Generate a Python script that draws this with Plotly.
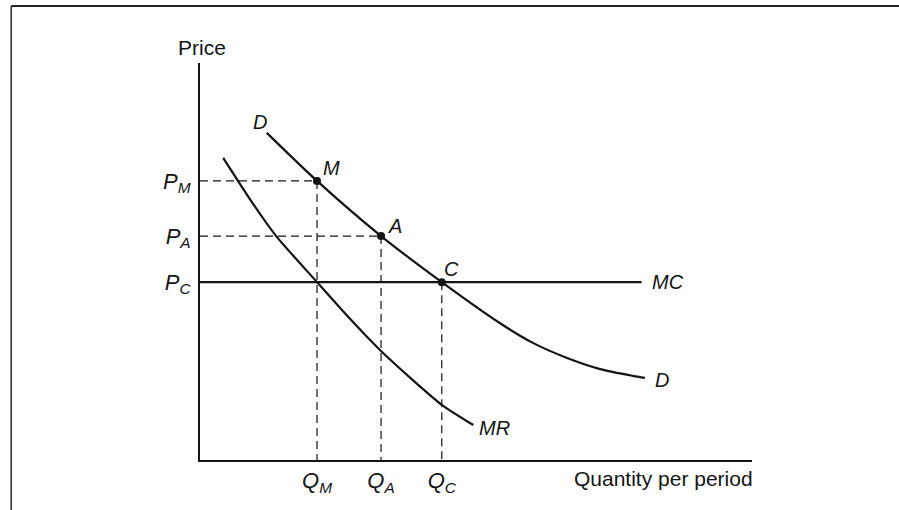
import plotly.graph_objects as go

# ---- data (abstract units) ----
q_labels = ["<i>Q<sub>M</sub></i>", "<i>Q<sub>A</sub></i>", "<i>Q<sub>C</sub></i>"]
p_labels = ["<i>P<sub>M</sub></i>", "<i>P<sub>A</sub></i>", "<i>P<sub>C</sub></i>"]
q_vals = [2.12, 3.28, 4.38]          # Q_M, Q_A, Q_C
p_vals = [7.03, 5.64, 4.48]          # P_M, P_A, P_C
point_names = ["M", "A", "C"]

demand_q = [1.21, 2.12, 3.28, 4.38, 5.43, 6.03, 6.65, 7.25, 7.84, 8.06]
demand_p = [8.24, 7.03, 5.64, 4.48, 3.45, 2.95, 2.57, 2.29, 2.12, 2.07]

mr_q = [0.42, 0.90, 1.38, 2.12, 2.70, 3.26, 3.85, 4.38, 4.95]
mr_p = [7.61, 6.58, 5.64, 4.48, 3.58, 2.77, 2.02, 1.39, 0.88]

mc_q = [0.0, 8.0]
mc_p = [4.48, 4.48]

INK = "#141414"
FONT = "Liberation Sans, Arial, sans-serif"

fig = go.Figure()

# dashed guide lines
for q, p in zip(q_vals[:2], p_vals[:2]):
    fig.add_trace(go.Scatter(x=[0, q], y=[p, p], mode="lines",
                             line=dict(color=INK, width=1.2, dash="8px,5px"),
                             hoverinfo="skip", showlegend=False))
for q, p in zip(q_vals, p_vals):
    fig.add_trace(go.Scatter(x=[q, q], y=[p, 0], mode="lines",
                             line=dict(color=INK, width=1.2, dash="8px,5px"),
                             hoverinfo="skip", showlegend=False))

# MC
fig.add_trace(go.Scatter(x=mc_q, y=mc_p, mode="lines",
                         line=dict(color=INK, width=2.2), showlegend=False))
# Demand
fig.add_trace(go.Scatter(x=demand_q, y=demand_p, mode="lines",
                         line=dict(color=INK, width=2.2, shape="spline", smoothing=0.8),
                         showlegend=False))
# MR
fig.add_trace(go.Scatter(x=mr_q, y=mr_p, mode="lines",
                         line=dict(color=INK, width=2.2, shape="spline", smoothing=0.6),
                         showlegend=False))
# points
fig.add_trace(go.Scatter(x=q_vals, y=p_vals, mode="markers",
                         marker=dict(color=INK, size=8), showlegend=False))

lab_font = dict(family=FONT, size=20, color=INK)

def lab(x, y, text, xs, ys, xa="center"):
    fig.add_annotation(x=x, y=y, text=text, showarrow=False, xshift=xs, yshift=ys,
                       xanchor=xa, yanchor="middle", font=lab_font)

shifts = [(14, 13), (14, 10), (10, 13)]
for q, p, n, (xs, ys) in zip(q_vals, p_vals, point_names, shifts):
    lab(q, p, f"<i>{n}</i>", xs, ys)

lab(demand_q[0], demand_p[0], "<i>D</i>", -7, 11)
lab(demand_q[-1], demand_p[-1], "<i>D</i>", 8, -2, "left")
lab(mc_q[-1], mc_p[-1], "<i>MC</i>", 8, 0, "left")
lab(mr_q[-1], mr_p[-1], "<i>MR</i>", 4, -3, "left")

# axis titles
fig.add_annotation(xref="paper", yref="paper", x=0.003, y=1.006, text="Price",
                   showarrow=False, xanchor="center", yanchor="bottom",
                   font=dict(family=FONT, size=21, color=INK))
fig.add_annotation(xref="paper", yref="paper", x=1.005, y=-0.012,
                   text="Quantity per period", showarrow=False,
                   xanchor="right", yanchor="top",
                   font=dict(family=FONT, size=21, color=INK))

# frame of the page
fig.add_shape(type="line", xref="paper", yref="paper", x0=-0.342, x1=1.3,
              y0=1.1436, y1=1.1436, line=dict(color="#222", width=2.2))
fig.add_shape(type="line", xref="paper", yref="paper", x0=-0.342, x1=-0.342,
              y0=1.1436, y1=-0.13, line=dict(color="#333", width=1.6))

fig.update_xaxes(range=[0, 10], showline=True, linecolor=INK, linewidth=2,
                 showgrid=False, zeroline=False, ticks="",
                 tickvals=q_vals, ticktext=q_labels, ticklabelstandoff=0,
                 tickfont=dict(family=FONT, size=22, color=INK))
fig.update_yaxes(range=[0, 10], showline=True, linecolor=INK, linewidth=2,
                 showgrid=False, zeroline=False, ticks="",
                 tickvals=p_vals, ticktext=p_labels, ticklabelstandoff=3,
                 tickfont=dict(family=FONT, size=22, color=INK))

fig.update_layout(width=899, height=510,
                  margin=dict(l=200, r=147, t=63, b=50, autoexpand=False),
                  paper_bgcolor="white", plot_bgcolor="white")

fig.write_html("out.html", config={"displayModeBar": False},
               post_script="document.body.style.margin='0';document.body.style.overflow='hidden';")
